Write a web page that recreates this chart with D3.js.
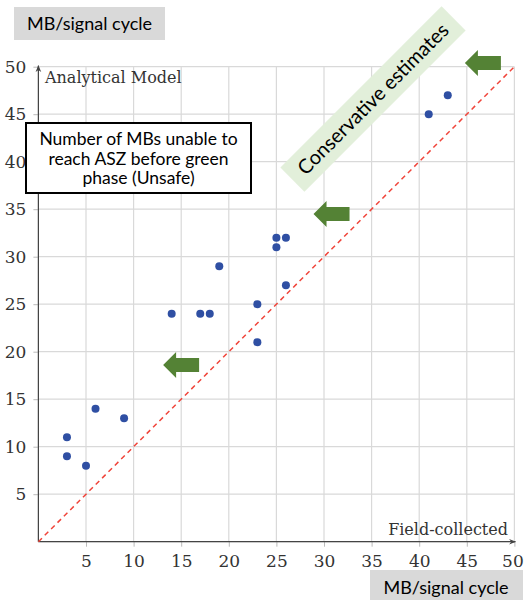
<!DOCTYPE html>
<html>
<head>
<meta charset="utf-8">
<script src="https://cdn.jsdelivr.net/npm/d3@7"></script>
<style>
    body { margin: 0; background: #fff; }
    svg { display: block; }
</style>
</head>
<body>
<div id="chart-container"></div>
<script>
// Field-collected vs analytical model (MB per signal cycle)
const fieldCollected = [3, 3, 5, 6, 9, 14, 17, 18, 19, 23, 23, 25, 25, 26, 26, 41, 43];
const analyticalModel = [11, 9, 8, 14, 13, 24, 24, 24, 29, 25, 21, 32, 31, 32, 27, 45, 47];
const tickValues = [5, 10, 15, 20, 25, 30, 35, 40, 45, 50];
const gridValues = [0, 5, 10, 15, 20, 25, 30, 35, 40, 45, 50];
// tips of the green arrows, in data units
const arrowTipX = [44.8, 28.9, 13.1];
const arrowTipY = [50.4, 34.5, 18.6];

const width = 524;
const height = 600;

const svg = d3.select("#chart-container")
    .append("svg")
    .attr("width", width)
    .attr("height", height);

const xScale = d3.scaleLinear().domain([0, 50]).range([38.4, 514.4]);
const yScale = d3.scaleLinear().domain([0, 50]).range([541.7, 66.7]);

const serif = "'DejaVu Serif', serif";
const sans = "Lato, 'Open Sans', sans-serif";

// arrow head for the axes
svg.append("defs").append("marker")
    .attr("id", "axis-arrow")
    .attr("viewBox", "0 0 10 10")
    .attr("refX", 9)
    .attr("refY", 5)
    .attr("markerWidth", 7)
    .attr("markerHeight", 7)
    .attr("markerUnits", "userSpaceOnUse")
    .attr("orient", "auto")
    .append("path")
    .attr("d", "M0,1 L10,5 L0,9 L3,5 Z")
    .attr("fill", "#444");

// grid
svg.append("g").selectAll("line")
    .data(gridValues)
    .enter()
    .append("line")
    .attr("x1", (d) => xScale(d))
    .attr("x2", (d) => xScale(d))
    .attr("y1", yScale(0))
    .attr("y2", yScale(50))
    .attr("stroke", "#d9d9d9")
    .attr("stroke-width", 1.2);

svg.append("g").selectAll("line")
    .data(gridValues)
    .enter()
    .append("line")
    .attr("x1", xScale(0))
    .attr("x2", xScale(50))
    .attr("y1", (d) => yScale(d))
    .attr("y2", (d) => yScale(d))
    .attr("stroke", "#d9d9d9")
    .attr("stroke-width", 1.2);

// axes
const xAxis = svg.append("g")
    .attr("transform", `translate(0,${yScale(0)})`)
    .call(d3.axisBottom(xScale).tickValues(tickValues).tickSize(5).tickSizeOuter(0).tickPadding(8));

const yAxis = svg.append("g")
    .attr("transform", `translate(${xScale(0)},0)`)
    .call(d3.axisLeft(yScale).tickValues(tickValues).tickSize(5).tickSizeOuter(0).tickPadding(7));

[xAxis, yAxis].forEach((g) => {
    g.select(".domain").remove();
    g.selectAll(".tick line").attr("stroke", "#bbb");
    g.selectAll("text")
        .attr("fill", "#333")
        .style("font-family", serif)
        .style("font-size", "17px");
});

// last x label sits on the right edge, keep it inside
xAxis.selectAll(".tick text").filter((d) => d === 50).attr("dx", "-2");

svg.append("line")
    .attr("x1", xScale(0)).attr("y1", yScale(0))
    .attr("x2", xScale(50) + 1).attr("y2", yScale(0))
    .attr("stroke", "#444").attr("stroke-width", 1.2)
    .attr("marker-end", "url(#axis-arrow)");

svg.append("line")
    .attr("x1", xScale(0)).attr("y1", yScale(0))
    .attr("x2", xScale(0)).attr("y2", yScale(50) - 1)
    .attr("stroke", "#444").attr("stroke-width", 1.2)
    .attr("marker-end", "url(#axis-arrow)");

// y = x reference line
svg.append("line")
    .attr("x1", xScale(0)).attr("y1", yScale(0))
    .attr("x2", xScale(50)).attr("y2", yScale(50))
    .attr("stroke", "#f0443a")
    .attr("stroke-width", 1.5)
    .attr("stroke-dasharray", "5,4");

// points
svg.selectAll(".dot")
    .data(fieldCollected)
    .enter()
    .append("circle")
    .attr("class", "dot")
    .attr("cx", (d) => xScale(d))
    .attr("cy", (d, i) => yScale(analyticalModel[i]))
    .attr("r", 4)
    .attr("fill", "#2f4fa3");

// axis titles
svg.append("text")
    .attr("x", 45).attr("y", 83)
    .attr("fill", "#333")
    .style("font-family", serif)
    .style("font-size", "16px")
    .text("Analytical Model");

svg.append("text")
    .attr("x", 508).attr("y", 535)
    .attr("text-anchor", "end")
    .attr("fill", "#333")
    .style("font-family", serif)
    .style("font-size", "16px")
    .text("Field-collected");

// unit boxes
svg.append("rect")
    .attr("x", 14).attr("y", 7).attr("width", 151).attr("height", 33)
    .attr("fill", "#d9d9d9");
svg.append("text")
    .attr("x", 89.5).attr("y", 30)
    .attr("text-anchor", "middle")
    .style("font-family", sans).style("font-size", "18px")
    .text("MB/signal cycle");

svg.append("rect")
    .attr("x", 370).attr("y", 570).attr("width", 153).attr("height", 30)
    .attr("fill", "#d9d9d9");
svg.append("text")
    .attr("x", 446).attr("y", 594)
    .attr("text-anchor", "middle")
    .style("font-family", sans).style("font-size", "18px")
    .text("MB/signal cycle");

// unsafe box
svg.append("rect")
    .attr("x", 26).attr("y", 123).attr("width", 225).attr("height", 70)
    .attr("fill", "#fff")
    .attr("stroke", "#000")
    .attr("stroke-width", 2);

svg.append("text")
    .attr("text-anchor", "middle")
    .style("font-family", sans).style("font-size", "17.5px")
    .selectAll("tspan")
    .data(["Number of MBs unable to", "reach ASZ before green", "phase (Unsafe)"])
    .enter()
    .append("tspan")
    .attr("x", 138.5)
    .attr("y", (d, i) => 145 + i * 19.5)
    .text((d) => d);

// conservative estimates label
const cons = svg.append("g").attr("transform", "translate(373,99) rotate(-45)");
cons.append("rect")
    .attr("x", -114).attr("y", -17).attr("width", 228).attr("height", 34)
    .attr("fill", "#e2efda");
cons.append("text")
    .attr("text-anchor", "middle")
    .attr("y", 7)
    .style("font-family", sans).style("font-size", "20px")
    .text("Conservative estimates");

// green arrows pointing left
const arrowPath = "M0,0 L13,-13 L13,-7 L36,-7 L36,7 L13,7 L13,13 Z";
svg.selectAll(".arrow")
    .data(arrowTipX)
    .enter()
    .append("path")
    .attr("class", "arrow")
    .attr("d", arrowPath)
    .attr("transform", (d, i) => `translate(${xScale(d)},${yScale(arrowTipY[i])})`)
    .attr("fill", "#548235");
</script>
</body>
</html>
